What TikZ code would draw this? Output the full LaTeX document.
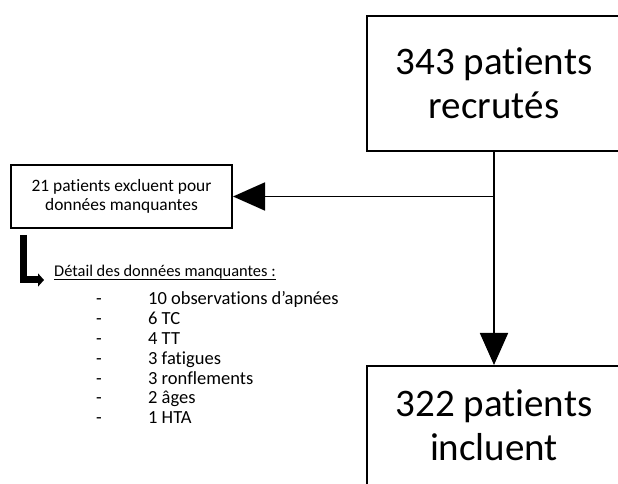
\documentclass[tikz,border=0pt]{standalone}
\usepackage{fontspec}
\setmainfont{Carlito}[Ligatures={NoCommon}]
\usetikzlibrary{arrows.meta,positioning}
\newcommand{\ulined}[1]{\setbox0\hbox{#1}\rlap{\rule[-3.3pt]{\wd0}{1.1pt}}\box0}

\begin{document}
\begin{tikzpicture}[
	x=1pt,
	y=1pt,
	box/.style={draw, line width=2pt, minimum width=254pt, minimum height=135pt},
	big/.style={font=\fontsize{39}{44}\selectfont, align=center},
	link/.style={line width=1.8pt, -{Triangle[length=32pt,width=28pt]}},
	hook/.style={line width=7pt, line join=miter, -{Triangle[length=6pt,width=13pt]}},
	listitem/.style={anchor=base west, inner sep=0pt, font=\fontsize{18.5}{19.8}\selectfont}
]
	\useasboundingbox (0,0) rectangle (618,484);
	\clip (0,0) rectangle (618,484);

	\node[box, big] (recr) at (494,400.5) {343 patients\\recrutés};
	\node[box, anchor=north] (incl) at (494,119) {};
	\node[big] (inclText) at ([yshift=8.5pt]incl.center) {322 patients\\incluent};
	\node[draw, line width=2pt, minimum width=221pt, minimum height=63pt, align=center,
		font=\fontsize{17.4}{18.5}\selectfont] (excl) at (121.5,287.5)
		{21 patients excluent pour\\données manquantes};

	\coordinate (split) at (recr.south |- excl.east);
	\draw[link] (recr.south) -- (incl.north);
	\draw[link] (split) -- (excl.east);

	\node[listitem, font=\fontsize{16.4}{19.8}\selectfont] (detail) at (54,207) {\ulined{Détail des données manquantes :}};
	\draw[hook] ([xshift=13pt,yshift=-6pt]excl.south west) |- ([xshift=-10pt,yshift=-3pt]detail.base west);

	\foreach \txt [count=\i] in {10 observations d’apnées, 6 TC, 4 TT, 3 fatigues, 3 ronflements, 2 âges, 1 HTA}
		\node[listitem] (item\i) at (96,{179-19.8*(\i-1)}) {\makebox[52pt][l]{-}\txt};
\end{tikzpicture}
\end{document}
